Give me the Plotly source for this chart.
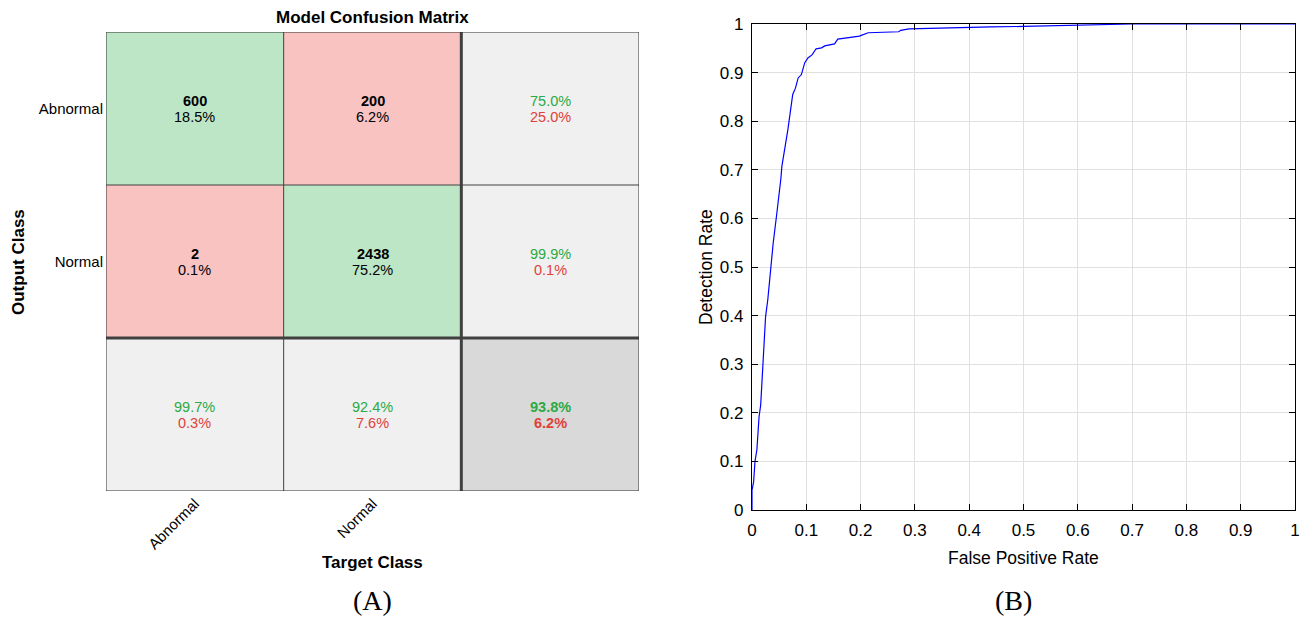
import plotly.graph_objects as go

# ---- Confusion matrix data ----
classes = ["Abnormal", "Normal"]
# rows = output (predicted) class, columns = target (true) class
counts = [[600, 200],
          [2, 2438]]

# ---- ROC curve data ----
fpr = [0.0, 0.0, 0.003, 0.0055, 0.009, 0.013, 0.016, 0.020, 0.025, 0.029,
       0.034, 0.039, 0.045, 0.049, 0.053, 0.055, 0.058, 0.062, 0.066, 0.069,
       0.072, 0.075, 0.080, 0.085, 0.091, 0.097, 0.103, 0.111, 0.118, 0.128,
       0.134, 0.152, 0.158, 0.174, 0.198, 0.200, 0.214, 0.270, 0.274, 0.289,
       0.366, 0.440, 0.500, 0.600, 0.700, 1.0]
tpr = [0.0, 0.041, 0.058, 0.100, 0.124, 0.192, 0.216, 0.295, 0.398, 0.432,
       0.494, 0.549, 0.604, 0.638, 0.680, 0.707, 0.731, 0.755, 0.782, 0.810,
       0.834, 0.855, 0.868, 0.889, 0.896, 0.920, 0.930, 0.937, 0.949, 0.951,
       0.955, 0.959, 0.969, 0.971, 0.975, 0.976, 0.982, 0.984, 0.987, 0.990,
       0.9925, 0.994, 0.995, 0.997, 1.0, 1.0]
roc_ticks = [0, 0.1, 0.2, 0.3, 0.4, 0.5, 0.6, 0.7, 0.8, 0.9, 1]
roc_ticktext = ["0", "0.1", "0.2", "0.3", "0.4", "0.5", "0.6", "0.7", "0.8", "0.9", "1"]

W, H = 1308, 618
GREEN_BG, RED_BG, GRAY_BG, DARK_BG = "#BDE6C7", "#F8C3C0", "#F0F0F0", "#D9D9D9"
GREEN_TX, RED_TX = "#2BAA46", "#E0413A"
SANS = "Liberation Sans, Arial, sans-serif"
SERIF = "Liberation Serif, Times New Roman, serif"


def px_x(p):
    return p / W


def px_y(p):
    return 1 - p / H


n = len(classes)
total = sum(sum(r) for r in counts)

# cell category: 1 correct, 2 wrong, 0 summary, 3 overall
z = []
for i in range(n + 1):
    row = []
    for j in range(n + 1):
        if i < n and j < n:
            row.append(1 if i == j else 2)
        elif i == n and j == n:
            row.append(3)
        else:
            row.append(0)
    z.append(row)

fig = go.Figure()
fig.add_trace(go.Heatmap(
    z=z, x=[k + 0.5 for k in range(n + 1)], y=[k + 0.5 for k in range(n + 1)],
    zmin=0, zmax=3,
    colorscale=[[0, GRAY_BG], [1 / 3, GREEN_BG], [2 / 3, RED_BG], [1, DARK_BG]],
    showscale=False, hoverinfo="skip", xaxis="x", yaxis="y"))

annotations = []
CELL_FONT = 14.5


def two_lines(x, y, top, bottom, c_top, c_bot, bold_top, bold_bot):
    for txt, col, bold, shift in ((top, c_top, bold_top, 8), (bottom, c_bot, bold_bot, -8)):
        annotations.append(dict(
            x=x, y=y, xref="x", yref="y", yshift=shift,
            text=f"<b>{txt}</b>" if bold else txt, showarrow=False,
            xanchor="center", yanchor="middle",
            font=dict(family=SANS, size=CELL_FONT, color=col)))


for i in range(n):
    for j in range(n):
        v = counts[i][j]
        two_lines(j + 0.5, i + 0.5, f"{v}", f"{100 * v / total:.1f}%",
                  "#000000", "#000000", True, False)

# row summaries (precision)
for i in range(n):
    p = 100 * counts[i][i] / sum(counts[i])
    two_lines(n + 0.5, i + 0.5, f"{p:.1f}%", f"{100 - p:.1f}%", GREEN_TX, RED_TX, False, False)
# column summaries (recall)
for j in range(n):
    p = 100 * counts[j][j] / sum(counts[i][j] for i in range(n))
    two_lines(j + 0.5, n + 0.5, f"{p:.1f}%", f"{100 - p:.1f}%", GREEN_TX, RED_TX, False, False)
acc = 100 * sum(counts[k][k] for k in range(n)) / total
two_lines(n + 0.5, n + 0.5, f"{acc:.1f}%", f"{100 - acc:.1f}%", GREEN_TX, RED_TX, True, True)

# grid lines of the matrix
shapes = []
for k in range(1, n + 1):
    w = 3 if k == n else 1
    col = "#404040"
    shapes.append(dict(type="line", xref="x", yref="y", x0=k, x1=k, y0=0, y1=n + 1,
                       line=dict(color=col, width=w)))
    shapes.append(dict(type="line", xref="x", yref="y", x0=0, x1=n + 1, y0=k, y1=k,
                       line=dict(color=col, width=w)))
shapes.append(dict(type="rect", xref="x", yref="y", x0=0, x1=n + 1, y0=0, y1=n + 1,
                   line=dict(color="#303030", width=1)))

# ROC curve
fig.add_trace(go.Scatter(x=fpr, y=tpr, mode="lines", line=dict(color="#0000FF", width=1.2),
                         xaxis="x2", yaxis="y2", hoverinfo="skip", showlegend=False))


def label(xp, yp, text, font, angle=0):
    return dict(x=px_x(xp), y=px_y(yp), xref="paper", yref="paper", text=text,
                showarrow=False, textangle=angle, xanchor="center", yanchor="middle",
                font=font)


bold_font = dict(family=SANS, size=17, color="#000")
annotations += [
    label(372, 18, "<b>Model Confusion Matrix</b>", bold_font),
    label(18, 262, "<b>Output Class</b>", bold_font, -90),
    label(372, 562, "<b>Target Class</b>", bold_font),
    label(372, 600, "(A)", dict(family=SERIF, size=28, color="#000")),
    label(1013, 600, "(B)", dict(family=SERIF, size=28, color="#000")),
    label(1023, 558, "False Positive Rate", dict(family=SANS, size=17.5, color="#000")),
    label(706, 267, "Detection Rate", dict(family=SANS, size=17.5, color="#000"), -90),
]

roc_axis = dict(range=[0, 1], tickvals=roc_ticks, ticktext=roc_ticktext,
                ticks="inside", ticklen=6, tickcolor="#000",
                showline=True, linecolor="#000", linewidth=1.2, mirror="ticks",
                showgrid=True, gridcolor="#E0E0E0", gridwidth=1, zeroline=False,
                tickfont=dict(family=SANS, size=17, color="#000"), ticklabelstandoff=4,
                automargin=False)

fig.update_layout(
    width=W, height=H, margin=dict(l=0, r=0, t=0, b=0, pad=0, autoexpand=False),
    plot_bgcolor="white", paper_bgcolor="white", showlegend=False,
    annotations=annotations, shapes=shapes,
    xaxis=dict(domain=[px_x(106), px_x(639)], range=[0, n + 1], showgrid=False, zeroline=False,
               tickvals=[k + 0.5 for k in range(n)], ticktext=classes, tickangle=-45,
               ticks="", tickfont=dict(family=SANS, size=15, color="#000"), fixedrange=True,
               automargin=False),
    yaxis=dict(domain=[px_y(491), px_y(32)], range=[n + 1, 0], showgrid=False, zeroline=False,
               tickvals=[k + 0.5 for k in range(n)], ticktext=classes, ticks="",
               tickfont=dict(family=SANS, size=15, color="#000"), fixedrange=True,
               ticklabelstandoff=2, automargin=False),
    xaxis2=dict(domain=[px_x(752), px_x(1295)], anchor="y2", **roc_axis),
    yaxis2=dict(domain=[px_y(510), px_y(24)], anchor="x2", **roc_axis),
)

fig.write_html("out.html")
